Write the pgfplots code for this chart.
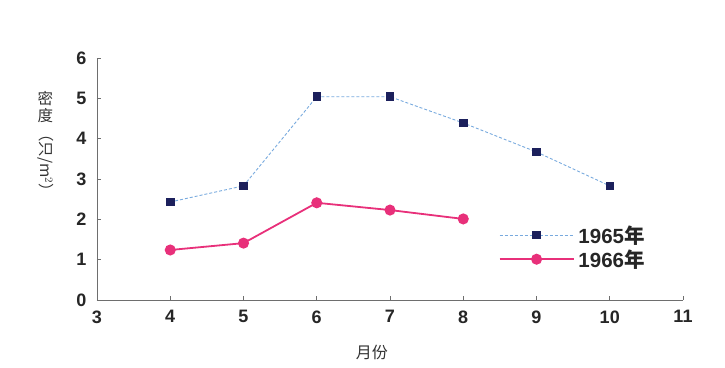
\documentclass[border=0pt]{standalone}
\usepackage{pgfplots}
\pgfplotsset{compat=1.18}
\usepackage{fontspec}
\setmainfont{Liberation Sans}
\newfontfamily\cjk{Noto Sans CJK SC}
\definecolor{navy}{RGB}{28,32,92}
\definecolor{lblue}{RGB}{120,170,222}
\definecolor{pinkc}{RGB}{232,48,122}
\definecolor{axgray}{RGB}{110,110,110}
\begin{document}
\begin{tikzpicture}
\begin{axis}[
  at={(0,0)}, anchor=south west,
  scale only axis, width=586pt, height=242pt,
  clip=false,
  xmin=3, xmax=11, ymin=0, ymax=6,
  xtick={3,...,11}, ytick={0,...,6},
  axis lines*=left,
  axis line style={axgray, line width=0.8pt},
  tick style={axgray, line width=0.6pt},
  major tick length=4pt,
  tick align=inside,
  /pgf/number format/assume math mode=true,
  tick label style={font=\fontsize{18}{20}\selectfont\bfseries, text=black!85},
  xticklabel style={yshift=-7pt},
  yticklabel style={xshift=-7pt},
  legend style={at={(0.68,0.325)}, anchor=north west, draw=none, fill=none,
     font=\fontsize{20.5}{22}\selectfont\bfseries, row sep=1pt, text=black!85,
     nodes={inner xsep=4pt}},
  legend cell align=left,
  legend image code/.code={\draw[mark repeat=2,mark phase=2] plot coordinates {(0pt,0pt)(37pt,0pt)(74pt,0pt)};},
]
\addplot[lblue, densely dashed, line width=0.9pt, mark=square*, mark size=3.8pt,
  mark options={solid, fill=navy, draw=navy}]
  coordinates {(4,2.43) (5,2.83) (6,5.04) (7,5.04) (8,4.39) (9,3.67) (10,2.83)};
\addlegendentry{1965{\cjk 年}}
\addplot[pinkc, solid, line width=1.8pt, mark=*, mark size=4.6pt,
  mark options={fill=pinkc, draw=pinkc}]
  coordinates {(4,1.24) (5,1.41) (6,2.41) (7,2.23) (8,2.01)};
\addlegendentry{1966{\cjk 年}}
\node[font=\fontsize{15.5}{17}\selectfont\cjk, text=black!80] at (rel axis cs:-0.088,0.64)
  {\shortstack{密\\度\\\rotatebox{-90}{（只/m$^2$）}}};
\node[font=\fontsize{16}{18}\selectfont\cjk, text=black!80] at (rel axis cs:0.469,-0.215) {月份};
\end{axis}
\path (-97pt,-67pt) rectangle (628pt,300pt);
\end{tikzpicture}
\end{document}
